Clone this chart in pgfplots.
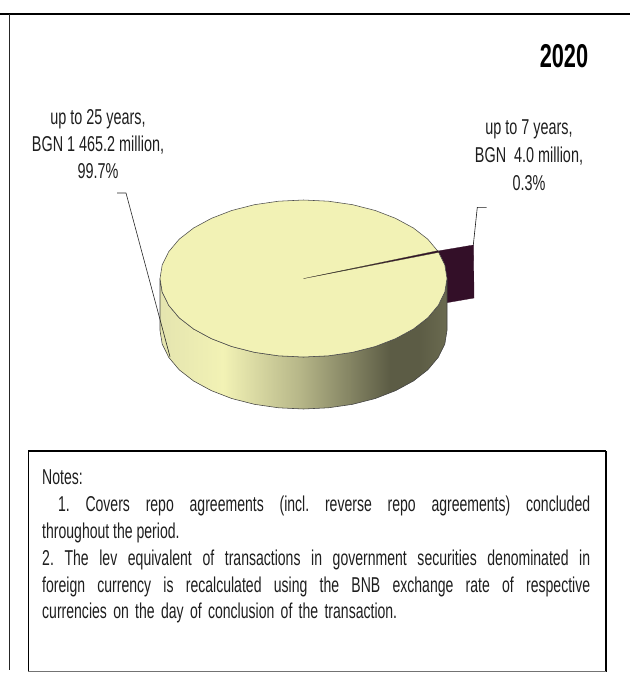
\documentclass[border=0pt]{standalone}
\usepackage{pgfplots}
\pgfplotsset{compat=1.18}
\usepackage{pgfplotstable}
\usepackage{fontspec}
\setmainfont{Liberation Sans}
\newfontfamily\lab[FakeStretch=0.67]{Liberation Sans}
\newfontfamily\ttl[FakeStretch=0.66]{Liberation Sans Bold}
\newfontfamily\nt[FakeStretch=0.653]{Liberation Sans}
\definecolor{pietop}{HTML}{F2F2B5}
\definecolor{sliver}{HTML}{330F28}
\definecolor{txt}{HTML}{1E1E1E}
\pgfdeclarehorizontalshading{sideshade}{100bp}{
 color(0bp)=(pietop!88!gray);
 color(25bp)=(pietop!88!gray);
 color(36bp)=(pietop);
 color(49bp)=(pietop!76!black);
 color(58bp)=(pietop!55!black);
 color(65bp)=(pietop!38!black);
 color(70bp)=(pietop!38!black);
 color(75bp)=(pietop!44!black);
 color(100bp)=(pietop!44!black)}
\pgfplotstableread{
x y
447 278.5
444.8 264.9
438.3 251.7
427.8 239.2
413.4 228
395.7 218.4
375.3 210.5
352.6 204.7
328.4 201.2
303.5 200
278.6 201.2
254.4 204.7
231.7 210.5
211.3 218.4
193.6 228
179.2 239.2
168.7 251.7
162.2 264.9
160 278.5
162.2 292.1
168.7 305.3
179.2 317.8
193.6 329
211.3 338.6
231.7 346.5
254.4 352.3
278.6 355.8
303.5 357
328.4 355.8
352.6 352.3
375.3 346.5
395.7 338.6
413.4 329
427.8 317.8
438.3 305.3
444.8 292.1
447 278.5
}\pietop
\pgfplotstableread{
x y
160 278.5
162.2 292.1
168.7 305.3
179.2 317.8
193.6 329
211.3 338.6
231.7 346.5
254.4 352.3
278.6 355.8
303.5 357
328.4 355.8
352.6 352.3
375.3 346.5
395.7 338.6
413.4 329
427.8 317.8
438.3 305.3
444.8 292.1
447 278.5
447 330.5
444.8 344.1
438.3 357.3
427.8 369.8
413.4 381
395.7 390.6
375.3 398.5
352.6 404.3
328.4 407.8
303.5 409
278.6 407.8
254.4 404.3
231.7 398.5
211.3 390.6
193.6 381
179.2 369.8
168.7 357.3
162.2 344.1
160 330.5
160 278.5
}\pieside
\frenchspacing
\begin{document}
\begin{tikzpicture}[x=1pt,y=1pt]
\useasboundingbox (0,0) rectangle (630pt,673pt);
\begin{axis}[at={(0,0)},anchor=south west,width=630pt,height=673pt,scale only axis,
  xmin=0,xmax=630,ymin=0,ymax=673,y dir=reverse,hide axis,clip=false]
% frame
\addplot[black,line width=1.3pt] coordinates {(0,14) (630,14)};
\addplot[black!85,line width=1.1pt] coordinates {(9.3,14) (9.3,670)};
% exploded slice
\addplot[fill=sliver,draw=sliver,line width=0.3pt] coordinates {(438,251) (473.5,245) (474,298) (445,303)} -- cycle;
% side and top
\addplot[shading=sideshade,draw=black!75,line width=0.55pt] table {\pieside} -- cycle;
\addplot[fill=pietop,draw=black!70,line width=0.55pt] table {\pietop} -- cycle;
% slice edge seen from above
\addplot[fill=sliver,draw=black!70!pietop,line width=0.3pt] coordinates {(303.5,278.6) (438,250.6) (439,252.3)} -- cycle;
% leader lines
\addplot[black!85,line width=0.6pt] coordinates {(117,193) (126,193) (170,356.7)};
\addplot[black!90,line width=0.6pt] coordinates {(486.7,207.3) (477.3,207.3) (473.3,245)};
% notes box
\addplot[black,line width=1.8pt] coordinates {(28,451) (606,451)};
\addplot[black,line width=1.1pt] coordinates {(28.5,451) (28.5,672)};
\addplot[black,line width=1.1pt] coordinates {(606,451) (606,672)};
\addplot[black!55,line width=0.7pt] coordinates {(28,671.7) (606,671.7)};
% texts
\node[anchor=center,text=black,font=\ttl\fontsize{33}{33}\selectfont] at (axis cs:564,56) {2020};
\node[anchor=north,align=center,text=txt,font=\lab\fontsize{21.5}{27.2}\selectfont,inner sep=0pt] at (axis cs:98,109) {up to 25 years,\\BGN 1 465.2 million,\\99.7\%};
\node[anchor=north,align=center,text=txt,font=\lab\fontsize{21.5}{27.6}\selectfont,inner sep=0pt] at (axis cs:529,120) {up to 7 years,\\BGN\ \ 4.0 million,\\0.3\%};
\node[anchor=north west,text=txt,font=\nt\fontsize{21.5}{26.9}\selectfont,inner sep=0pt,align=left] at (axis cs:42,469.5) {Notes:\\
\makebox[548pt][s]{\ 1. Covers repo agreements (incl. reverse repo agreements) concluded}\\
throughout the period.\\
\makebox[548pt][s]{2. The lev equivalent of transactions in government securities denominated in}\\
\makebox[548pt][s]{foreign currency is recalculated using the BNB exchange rate of respective}\\
\makebox[355pt][s]{currencies on the day of conclusion of the transaction.}};
\end{axis}
\end{tikzpicture}
\end{document}
